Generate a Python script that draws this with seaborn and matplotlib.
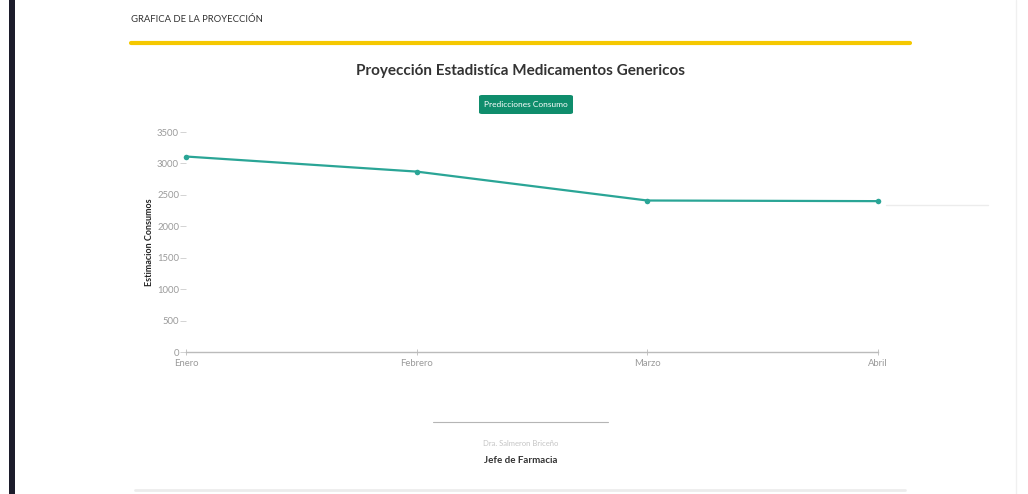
import matplotlib
matplotlib.use("Agg")
import matplotlib.pyplot as plt
import seaborn as sns
import pandas as pd
from matplotlib.patches import FancyBboxPatch, Rectangle
from matplotlib.lines import Line2D

# Monthly projected consumption
meses = ["Enero", "Febrero", "Marzo", "Abril"]
consumo = [3110, 2870, 2410, 2400]
yticks = [0, 500, 1000, 1500, 2000, 2500, 3000, 3500]

titulo = "Proyección Estadistíca Medicamentos Genericos"
encabezado = "GRAFICA DE LA PROYECCIÓN"
leyenda = "Predicciones Consumo"
eje_y = "Estimacion Consumos"
firma_nombre = "Dra. Salmeron Briceño"
firma_cargo = "Jefe de Farmacia"

sns.set_theme(style="white")
plt.rcParams["font.family"] = ["Lato", "DejaVu Sans"]

W, H = 1028, 494
fig = plt.figure(figsize=(W / 100, H / 100), dpi=100)
fig.patch.set_facecolor("white")

def fx(px):
    return px / W

def fy(py):
    return 1 - py / H

# page decorations
fig.add_artist(Rectangle((fx(9), 0), fx(6), 1, transform=fig.transFigure,
                         color="#1c1c2b", lw=0))
fig.add_artist(Line2D([fx(1016), fx(1016)], [0, 1], transform=fig.transFigure,
                      color="#f0f0f0", lw=1))
fig.add_artist(Line2D([fx(131), fx(910)], [fy(43), fy(43)], transform=fig.transFigure,
                      color="#f5c800", lw=3))
fig.add_artist(Line2D([fx(135), fx(905)], [fy(490), fy(490)], transform=fig.transFigure,
                      color="#ececec", lw=2))
fig.text(fx(131), fy(19), encabezado, fontsize=6.8, color="#333333",
         ha="left", va="center")

fig.text(fx(521), fy(71), titulo, fontsize=11, fontweight="bold", color="#333333",
         ha="center", va="center")

# legend button
bx0, bx1, by0, by1 = 479, 573, 95, 114
fig.add_artist(FancyBboxPatch((fx(bx0), fy(by1)), fx(bx1 - bx0), fy(by0) - fy(by1),
                              boxstyle="round,pad=0,rounding_size=0.003",
                              transform=fig.transFigure, color="#0f8d6c", lw=0))
fig.text(fx((bx0 + bx1) / 2), fy((by0 + by1) / 2), leyenda, fontsize=6,
         color="white", ha="center", va="center")

# chart
ax = fig.add_axes([fx(186), fy(352), fx(878 - 186), fy(132) - fy(352)])
df = pd.DataFrame({"mes": meses, "consumo": consumo})
df["pos"] = range(len(meses))
sns.lineplot(data=df, x="pos", y="consumo", ax=ax, color="#2aa596", lw=1.6,
             marker="o", markersize=4, markeredgewidth=0, clip_on=False)

ax.set_xlim(0, len(meses) - 1)
ax.set_ylim(0, 3500)
ax.set_xticks(df["pos"])
ax.set_xticklabels(meses)
ax.set_yticks(yticks)
ax.set_yticklabels([str(v) for v in yticks])
ax.set_xlabel("")
ax.set_ylabel(eje_y, fontsize=6.5, fontweight="bold", color="#222222", labelpad=2)
for s in ["top", "right", "left"]:
    ax.spines[s].set_visible(False)
ax.spines["bottom"].set_color("#bbbbbb")
ax.spines["bottom"].set_linewidth(1)
ax.tick_params(axis="y", length=4, width=0.6, color="#cccccc", labelsize=6.8,
               labelcolor="#9a9a9a", pad=1, left=True)
ax.tick_params(axis="x", length=4, width=0.6, color="#bbbbbb", labelsize=6.8,
               labelcolor="#9a9a9a", pad=3, bottom=True, direction="inout")
ax.set_facecolor("white")

# faint trailing line to the right of the last point
fig.add_artist(Line2D([fx(886), fx(988)], [fy(205), fy(205)], transform=fig.transFigure,
                      color="#ececec", lw=1))

# signature block
fig.add_artist(Line2D([fx(433), fx(608)], [fy(422), fy(422)], transform=fig.transFigure,
                      color="#b5b5b5", lw=0.8))
fig.text(fx(521), fy(443), firma_nombre, fontsize=5.5, color="#c4c4c4",
         ha="center", va="center")
fig.text(fx(521), fy(460), firma_cargo, fontsize=7, fontweight="bold", color="#333333",
         ha="center", va="center")

fig.savefig("out.png", dpi=100, facecolor="white")
